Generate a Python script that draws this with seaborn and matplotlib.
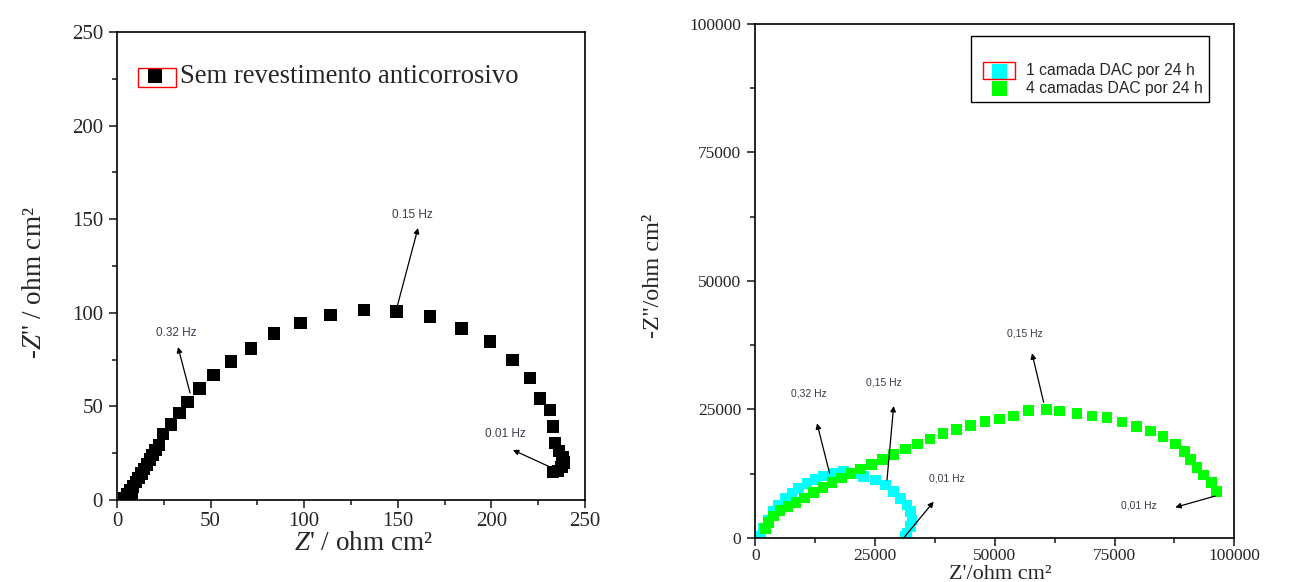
import matplotlib
matplotlib.use("Agg")
import matplotlib.pyplot as plt
from matplotlib.patches import Rectangle
from matplotlib.ticker import MultipleLocator
import pandas as pd
import seaborn as sns

# ---------------- data ----------------
left_zr = [4, 6, 8, 5.5, 7, 8.5, 10, 11.5, 13, 14.5, 16, 17.5, 19, 20.5, 22.5, 24.7,
           28.7, 33.3, 37.7, 44, 51.5, 60.9, 71.6, 83.9, 98.1, 114.1, 132, 149.4,
           167.2, 184.1, 199.3, 211.2, 220.6, 226, 231.3, 233, 234, 236, 238, 238.5,
           237.5, 235.5, 233]
left_zi = [1, 0.8, 1.2, 3, 5, 7.2, 9.5, 11.8, 14.2, 16.6, 19, 21.5, 24, 26.6, 29.5, 35.3,
           40.4, 46.3, 52.2, 59.6, 66.8, 73.9, 81, 89, 94.4, 98.8, 101.5, 100.6,
           97.9, 91.7, 84.6, 74.8, 65, 54.3, 48.1, 39.2, 30.3, 26, 23, 20,
           17.5, 15.5, 15]
left_label = "Sem revestimento anticorrosivo"

cyan_zr = [1040, 1740, 2780, 3830, 4870, 6260, 7660, 9050, 10790, 12530, 14270, 16370,
           18440, 20530, 22620, 25050, 27140, 28870, 30270, 31660, 32360, 32710,
           32360, 31660, 31310]
cyan_zi = [250, 1890, 3500, 5120, 6420, 7720, 8690, 9660, 10640, 11410, 12060, 12580,
           12900, 12580, 11930, 11280, 10310, 9010, 7720, 6420, 5120, 3500,
           2200, 910, 250]

green_zr = [2100, 2800, 3800, 5200, 6800, 8500, 10300, 12200, 14100, 16000, 18000,
            20000, 22000, 24200, 26500, 28900, 31300, 33800, 36500, 39200, 42000,
            44900, 47950, 51020, 53930, 57060, 60750, 63530, 67150, 70290, 73410,
            76550, 79540, 82460, 85110, 87680, 89630, 90810, 92210, 93590, 95200, 96240]
green_zi = [1900, 3000, 4300, 5300, 6100, 6900, 7800, 8800, 9800, 10800, 11700,
            12600, 13400, 14300, 15300, 16300, 17300, 18300, 19300, 20300, 21100,
            21900, 22630, 23150, 23740, 24770, 25040, 24710, 24250, 23740, 23410,
            22570, 21660, 20820, 19710, 18290, 16800, 15300, 13750, 12260, 10760, 9010]
right_labels = ["1 camada DAC por 24 h", "4 camadas DAC por 24 h"]

left_ticks = [0, 50, 100, 150, 200, 250]
right_ticks = [0, 25000, 50000, 75000, 100000]

# annotations: text, text pos, arrow tail, arrow head
left_notes = [("0.15 Hz", (157.6, 152.2), (149.6, 103.1), (160.8, 145.3)),
              ("0.32 Hz", (31.5, 89.2), (39.0, 57.2), (32.6, 81.7)),
              ("0.01 Hz", (207.3, 35.3), (231.3, 17.6), (211.5, 26.7))]
right_notes = [("0,15 Hz", (56370, 39820), (60190, 26400), (57760, 35930)),
               ("0,15 Hz", (26790, 30220), (27490, 11280), (28880, 25680)),
               ("0,32 Hz", (11130, 28150), (15510, 12580), (12880, 22310)),
               ("0,01 Hz", (40010, 11610), (30960, 0), (37230, 7070)),
               ("0,01 Hz", (80030, 6290), (96030, 8170), (87680, 5970))]

# ---------------- style ----------------
sns.set_style("ticks")
plt.rcParams["font.family"] = ["Liberation Serif", "DejaVu Serif"]
plt.rcParams["mathtext.fontset"] = "custom"
plt.rcParams["mathtext.rm"] = "Liberation Serif"
plt.rcParams["mathtext.it"] = "Liberation Serif:italic"
plt.rcParams["axes.linewidth"] = 1.2

fig = plt.figure(figsize=(13, 5.82), dpi=100)
axL = fig.add_axes([0.090, 0.141, 0.360, 0.804])
axR = fig.add_axes([0.581, 0.0756, 0.3685, 0.8832])

dfL = pd.DataFrame({"zr": left_zr, "zi": left_zi})
sns.scatterplot(data=dfL, x="zr", y="zi", ax=axL, marker="s", s=80, color="black",
                edgecolor="none", linewidth=0, label=left_label)

dfC = pd.DataFrame({"zr": cyan_zr, "zi": cyan_zi})
dfG = pd.DataFrame({"zr": green_zr, "zi": green_zi})
sns.scatterplot(data=dfC, x="zr", y="zi", ax=axR, marker="s", s=58, color="#00ffff",
                edgecolor="none", linewidth=0, label=right_labels[0])
sns.scatterplot(data=dfG, x="zr", y="zi", ax=axR, marker="s", s=58, color="#00ff00",
                edgecolor="none", linewidth=0, label=right_labels[1])

for ax, lim, ticks, step, fs, pad in [(axL, 250, left_ticks, 25, 15, 3),
                                      (axR, 100000, right_ticks, 12500, 12.5, 1)]:
    ax.set_xlim(0, lim)
    ax.set_ylim(0, lim)
    ax.set_xticks(ticks)
    ax.set_yticks(ticks)
    ax.set_xticklabels([str(t) for t in ticks])
    ax.set_yticklabels([str(t) for t in ticks])
    ax.xaxis.set_minor_locator(MultipleLocator(step))
    ax.yaxis.set_minor_locator(MultipleLocator(step))
    ax.tick_params(which="major", direction="out", length=6, width=1.2, labelsize=fs,
                   top=False, right=False, pad=4)
    ax.tick_params(axis="x", which="major", pad=pad)
    ax.tick_params(which="minor", direction="out", length=3.5, width=1.2,
                   top=False, right=False)
    for sp in ax.spines.values():
        sp.set_visible(True)
        sp.set_color("black")
        sp.set_linewidth(1.2)

axL.set_xlabel(r"$Z$' / ohm cm²", fontsize=19.5, va="baseline")
axL.set_ylabel(r"-$Z$'' / ohm cm²", fontsize=19.5)
axL.xaxis.set_label_coords(0.526, -0.108)
axL.yaxis.set_label_coords(-0.15, 0.464)

axR.set_xlabel("Z'/ohm cm²", fontsize=16, va="baseline")
axR.set_ylabel("-Z''/ohm cm²", fontsize=17.5)
axR.xaxis.set_label_coords(0.511, -0.079)
axR.yaxis.set_label_coords(-0.19, 0.51)

ann_kw = dict(arrowstyle="-|>", color="black", lw=0.9, mutation_scale=8,
              shrinkA=0, shrinkB=0)
for ax, notes, nfs in [(axL, left_notes, 8.5), (axR, right_notes, 7.5)]:
    for txt, tpos, tail, head in notes:
        ax.annotate("", xy=head, xytext=tail, arrowprops=ann_kw)
        ax.text(tpos[0], tpos[1], txt, fontsize=nfs, color="#3a3a4a",
                family=["Liberation Sans", "DejaVu Sans"], ha="center", va="center")

# legends
legL = axL.legend(loc="center left", bbox_to_anchor=(0.055, 0.905), frameon=False,
                  fontsize=19.2, markerscale=1.15, handlelength=0.9,
                  handletextpad=0.5, borderpad=0, borderaxespad=0)
legR = axR.legend(loc="upper right", bbox_to_anchor=(0.948, 0.977), frameon=True,
                  fancybox=False, framealpha=1, edgecolor="black",
                  title=" ", title_fontsize=16,
                  prop={"family": ["Liberation Sans", "DejaVu Sans"], "size": 11.3},
                  markerscale=1.4, handlelength=2.8, handletextpad=0.3,
                  labelspacing=0.15, borderpad=0.4, borderaxespad=0)
legR.get_frame().set_linewidth(1.0)

# selection boxes around legend markers
axL.add_patch(Rectangle((0.0455, 0.883), 0.0805, 0.0407, transform=axL.transAxes,
                        fill=False, edgecolor="red", lw=1.0, clip_on=False, zorder=10))
axR.add_patch(Rectangle((0.4754, 0.8924), 0.0674, 0.0343, transform=axR.transAxes,
                        fill=False, edgecolor="red", lw=1.0, clip_on=False, zorder=10))

fig.savefig("out.png", dpi=100)
